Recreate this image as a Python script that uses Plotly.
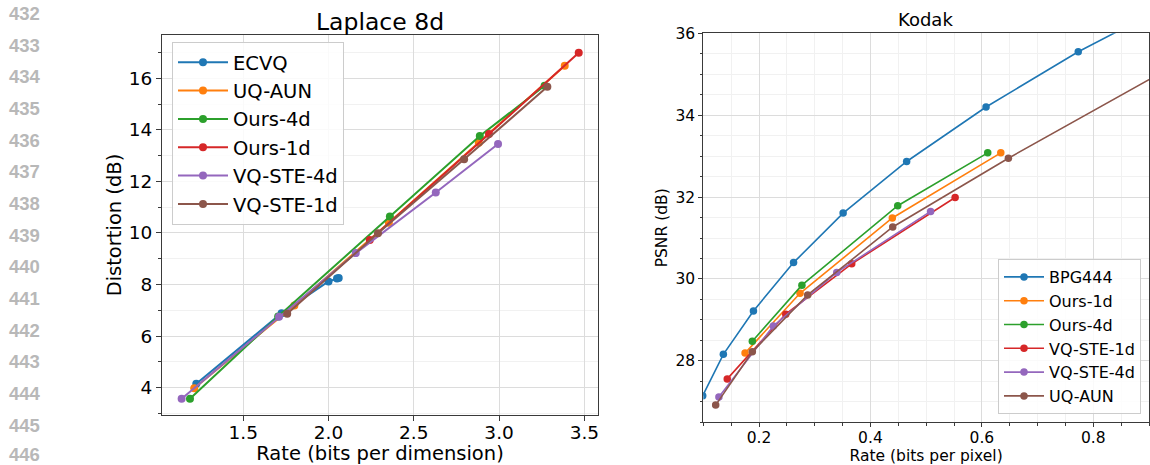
import plotly.graph_objects as go

# ---------------- data ----------------
# Left panel: Laplace 8d
lap_names = ["ECVQ", "UQ-AUN", "Ours-4d", "Ours-1d", "VQ-STE-4d", "VQ-STE-1d"]
lap_ecvq_x = [1.225, 1.725, 2.0, 2.05, 2.06]
lap_ecvq_y = [4.15, 6.89, 8.12, 8.23, 8.25]
lap_uqaun_x = [1.213, 1.80, 2.354, 2.881, 3.385]
lap_uqaun_y = [3.98, 7.19, 10.40, 13.50, 16.49]
lap_ours4_x = [1.188, 1.705, 2.36, 2.887, 3.267]
lap_ours4_y = [3.57, 6.76, 10.64, 13.76, 15.71]
lap_ours1_x = [2.242, 2.941, 3.467]
lap_ours1_y = [9.73, 13.84, 16.99]
lap_vq4_x = [1.139, 1.71, 2.16, 2.629, 2.994]
lap_vq4_y = [3.57, 6.75, 9.22, 11.57, 13.45]
lap_vq1_x = [1.758, 2.29, 2.795, 3.283]
lap_vq1_y = [6.87, 9.99, 12.86, 15.67]

# Right panel: Kodak
kod_names = ["BPG444", "Ours-1d", "Ours-4d", "VQ-STE-1d", "VQ-STE-4d", "UQ-AUN"]
kod_bpg_x = [0.099, 0.136, 0.190, 0.262, 0.351, 0.465, 0.6075, 0.773, 1.0]
kod_bpg_y = [27.15, 28.16, 29.22, 30.40, 31.61, 32.87, 34.20, 35.55, 37.15]
kod_ours1_x = [0.175, 0.2736, 0.4393, 0.634]
kod_ours1_y = [28.19, 29.65, 31.49, 33.08]
kod_ours4_x = [0.188, 0.277, 0.449, 0.6105]
kod_ours4_y = [28.48, 29.85, 31.79, 33.08]
kod_vq1_x = [0.143, 0.248, 0.3664, 0.552]
kod_vq1_y = [27.56, 29.14, 30.37, 31.99]
kod_vq4_x = [0.128, 0.2257, 0.3395, 0.508]
kod_vq4_y = [27.12, 28.85, 30.16, 31.65]
kod_uqaun_x = [0.1222, 0.188, 0.2874, 0.44, 0.6476, 1.0]
kod_uqaun_y = [26.92, 28.22, 29.61, 31.27, 32.95, 35.63]

lap_ticks_x = [1.5, 2.0, 2.5, 3.0, 3.5]
lap_ticks_y = [4, 6, 8, 10, 12, 14, 16]
kod_ticks_x = [0.2, 0.4, 0.6, 0.8]
kod_ticks_y = [28, 30, 32, 34, 36]
line_numbers = list(range(432, 447))

colors = ["#1f77b4", "#ff7f0e", "#2ca02c", "#d62728", "#9467bd", "#8c564b"]

# ---------------- figure ----------------
W, H = 1150, 465
FONT = "DejaVu Sans"
fig = go.Figure()

lap_series = [(lap_ecvq_x, lap_ecvq_y), (lap_uqaun_x, lap_uqaun_y), (lap_ours4_x, lap_ours4_y),
              (lap_ours1_x, lap_ours1_y), (lap_vq4_x, lap_vq4_y), (lap_vq1_x, lap_vq1_y)]
for i, (name, (xs, ys)) in enumerate(zip(lap_names, lap_series)):
    fig.add_trace(go.Scatter(x=xs, y=ys, name=name, mode="lines+markers",
                             line=dict(color=colors[i], width=2),
                             marker=dict(color=colors[i], size=8),
                             xaxis="x", yaxis="y", legend="legend"))

kod_series = [(kod_bpg_x, kod_bpg_y), (kod_ours1_x, kod_ours1_y), (kod_ours4_x, kod_ours4_y),
              (kod_vq1_x, kod_vq1_y), (kod_vq4_x, kod_vq4_y), (kod_uqaun_x, kod_uqaun_y)]
for i, (name, (xs, ys)) in enumerate(zip(kod_names, kod_series)):
    fig.add_trace(go.Scatter(x=xs, y=ys, name=name, mode="lines+markers",
                             line=dict(color=colors[i], width=1.6),
                             marker=dict(color=colors[i], size=7.5),
                             xaxis="x2", yaxis="y2", legend="legend2"))

def px_x(p):
    return p / W

def px_y(p):
    return 1 - p / H

spine = "#3a3a3a"
grid = "#dcdcdc"
mgrid = "#f1f1f1"

common = dict(showline=True, linecolor=spine, linewidth=1, mirror=True,
              ticks="outside", tickcolor=spine, showgrid=True, gridcolor=grid,
              gridwidth=1, zeroline=False, automargin=False)

fig.update_layout(
    width=W, height=H,
    margin=dict(l=0, r=0, t=0, b=0),
    paper_bgcolor="white", plot_bgcolor="white",
    font=dict(family=FONT, color="black"),
    xaxis=dict(domain=[px_x(162), px_x(598)], range=[1.024, 3.58],
               tickvals=lap_ticks_x, ticktext=[f"{v:.1f}" for v in lap_ticks_x],
               tickfont=dict(size=18.5), ticklen=5, ticklabelstandoff=-4,
               title=dict(text="Rate (bits per dimension)", font=dict(size=19.5), standoff=9),
               anchor="y", **common),
    yaxis=dict(domain=[px_y(415), px_y(35)], range=[2.94, 17.68],
               tickvals=lap_ticks_y, ticktext=[str(v) for v in lap_ticks_y],
               tickfont=dict(size=18.5), ticklen=5,
               minor=dict(dtick=1, tick0=0, ticks="outside", ticklen=3, tickcolor=spine,
                          showgrid=True, gridcolor=mgrid),
               title=dict(text="Distortion (dB)", font=dict(size=19.5), standoff=1),
               anchor="x", **common),
    xaxis2=dict(domain=[px_x(703.3), px_x(1149)], range=[0.1, 0.9],
                tickvals=kod_ticks_x, ticktext=[f"{v:.1f}" for v in kod_ticks_x],
                tickfont=dict(size=15.5), ticklen=4, ticklabelstandoff=-3,
                minor=dict(dtick=0.05, tick0=0, ticks="outside", ticklen=2.5, tickcolor=spine,
                           showgrid=True, gridcolor=mgrid),
                title=dict(text="Rate (bits per pixel)", font=dict(size=15.5), standoff=10),
                anchor="y2", **common),
    yaxis2=dict(domain=[px_y(422.3), px_y(33.3)], range=[26.5, 36],
                tickvals=kod_ticks_y, ticktext=[str(v) for v in kod_ticks_y],
                tickfont=dict(size=15.5), ticklen=4,
                minor=dict(dtick=0.5, tick0=0, ticks="outside", ticklen=2.5, tickcolor=spine,
                           showgrid=True, gridcolor=mgrid),
                title=dict(text="PSNR (dB)", font=dict(size=15.5), standoff=4),
                anchor="x2", **common),
    legend=dict(x=px_x(172), y=px_y(42), xanchor="left", yanchor="top",
                bgcolor="rgba(255,255,255,0.85)", bordercolor="#cccccc", borderwidth=1,
                font=dict(size=19.5, family=FONT), itemwidth=50, tracegroupgap=0),
    legend2=dict(x=px_x(1141), y=px_y(414), xanchor="right", yanchor="bottom",
                 bgcolor="rgba(255,255,255,0.85)", bordercolor="#cccccc", borderwidth=1,
                 font=dict(size=16, family=FONT), itemwidth=40, tracegroupgap=0),
    showlegend=True,
)

# subplot titles
fig.add_annotation(text="Laplace 8d", x=px_x(380), y=px_y(22), xref="paper", yref="paper",
                   showarrow=False, font=dict(size=23.5, family=FONT), xanchor="center", yanchor="middle")
fig.add_annotation(text="Kodak", x=px_x(926), y=px_y(19), xref="paper", yref="paper",
                   showarrow=False, font=dict(size=18, family=FONT), xanchor="center", yanchor="middle")

# page line numbers
for i, n in enumerate(line_numbers):
    yc = min(13.5 + 31.67 * i, 454.5)
    fig.add_annotation(text=f"<b>{n}</b>", x=px_x(7), y=px_y(yc),
                       xref="paper", yref="paper", showarrow=False,
                       font=dict(size=18.5, family="Liberation Sans", color="#b8b8b8"),
                       xanchor="left", yanchor="middle")

fig.write_html("out.html")
